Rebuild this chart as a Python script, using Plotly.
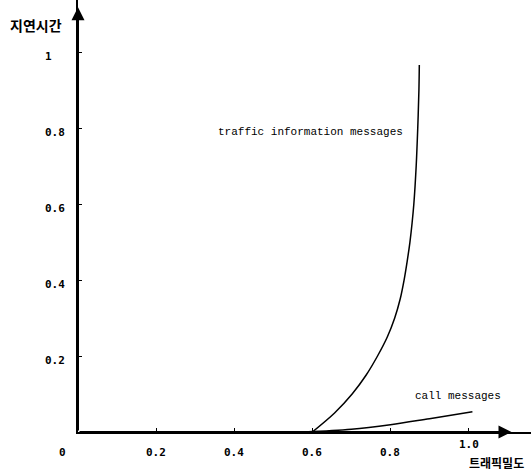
import plotly.graph_objects as go

# --- data ---
traffic_x = [0.600, 0.657, 0.702, 0.738, 0.767, 0.792, 0.811, 0.825, 0.835, 0.843, 0.850, 0.8555, 0.860, 0.866, 0.870, 0.873, 0.874]
traffic_y = [0.000, 0.050, 0.100, 0.150, 0.200, 0.250, 0.300, 0.350, 0.400, 0.450, 0.500, 0.550, 0.600, 0.700, 0.800, 0.900, 0.966]
call_x = [0.58, 0.7, 0.8, 0.9, 1.01]
call_y = [0.0, 0.007, 0.019, 0.035, 0.053]
x_ticks = [0.2, 0.4, 0.6, 0.8, 1.0]
x_tick_labels = ["0.2", "0.4", "0.6", "0.8", "1.0"]
y_ticks = [0.2, 0.4, 0.6, 0.8, 1.0]
y_tick_labels = ["0.2", "0.4", "0.6", "0.8", "1"]
x_title = "트래픽밀도"
y_title = "지연시간"
traffic_label = "traffic information messages"
call_label = "call messages"

W, H = 531, 470
ML, MB = 78, 38
PW, PH = W - ML, H - MB
X_RANGE = [0, 1.16]
Y_RANGE = [0, 1.137]


def px_x(px):
    return (px - ML) / PW


def px_y(py):
    return (PH - py) / PH


def data_y_to_paper(v):
    return v / Y_RANGE[1]


tick_font = dict(family="DejaVu Sans Mono", size=11, color="black", weight="bold")
mono_font = dict(family="Liberation Mono", size=11, color="black")

fig = go.Figure()
fig.add_trace(go.Scatter(x=traffic_x, y=traffic_y, mode="lines",
                         line=dict(color="black", width=1.5, shape="spline", smoothing=1.0),
                         cliponaxis=False, showlegend=False))
fig.add_trace(go.Scatter(x=call_x, y=call_y, mode="lines",
                         line=dict(color="black", width=1.5, shape="spline"),
                         cliponaxis=False, showlegend=False))

ann = []
# axis arrows
ann.append(dict(x=1.11, y=0, ax=0, ay=0, xref="x", yref="y", axref="x", ayref="y",
                showarrow=True, arrowhead=2, arrowsize=1.3, arrowwidth=2, arrowcolor="black", text=""))
ann.append(dict(x=0, y=1.118, ax=0, ay=0, xref="x", yref="y", axref="x", ayref="y",
                showarrow=True, arrowhead=2, arrowsize=1.3, arrowwidth=2, arrowcolor="black", text=""))
# x tick labels
for xv, lab in zip(x_ticks, x_tick_labels):
    ann.append(dict(x=xv, y=0, xref="x", yref="paper", text=lab, showarrow=False,
                    xanchor="center", yanchor="middle",
                    yshift=-20 if lab != "1.0" else -12, font=tick_font))
# y tick labels (left aligned)
for yv, lab in zip(y_ticks, y_tick_labels):
    ann.append(dict(x=px_x(43), y=data_y_to_paper(yv), xref="paper", yref="paper", text=lab,
                    showarrow=False, xanchor="left", yanchor="middle", yshift=-4, font=tick_font))
# origin label
ann.append(dict(x=px_x(62), y=0, xref="paper", yref="paper", text="0", showarrow=False,
                xanchor="center", yanchor="middle", yshift=-20, font=tick_font))
# titles
ann.append(dict(x=px_x(36), y=px_y(25), xref="paper", yref="paper", text=y_title,
                showarrow=False, xanchor="center", yanchor="middle",
                font=dict(family="Noto Sans CJK KR", size=14, color="black", weight="bold")))
ann.append(dict(x=px_x(496), y=px_y(462), xref="paper", yref="paper", text=x_title,
                showarrow=False, xanchor="center", yanchor="middle",
                font=dict(family="Noto Sans CJK KR", size=12, color="black", weight="bold")))
# series labels
ann.append(dict(x=px_x(310), y=px_y(132), xref="paper", yref="paper", text=traffic_label,
                showarrow=False, xanchor="center", yanchor="middle", font=mono_font))
ann.append(dict(x=px_x(458), y=px_y(396), xref="paper", yref="paper", text=call_label,
                showarrow=False, xanchor="center", yanchor="middle", font=mono_font))

fig.update_layout(
    width=W, height=H,
    margin=dict(l=ML, r=0, t=0, b=MB, pad=0),
    plot_bgcolor="white", paper_bgcolor="white",
    xaxis=dict(range=X_RANGE, showgrid=False, zeroline=False, showline=True,
               linecolor="black", linewidth=2, ticks="inside", ticklen=4,
               tickcolor="black", tickwidth=1, tickvals=x_ticks, showticklabels=False,
               fixedrange=True),
    yaxis=dict(range=Y_RANGE, showgrid=False, zeroline=False, showline=True,
               linecolor="black", linewidth=2, ticks="inside", ticklen=4,
               tickcolor="black", tickwidth=1, tickvals=y_ticks, showticklabels=False,
               fixedrange=True),
    annotations=ann,
    showlegend=False,
)
fig.write_html("out.html")
